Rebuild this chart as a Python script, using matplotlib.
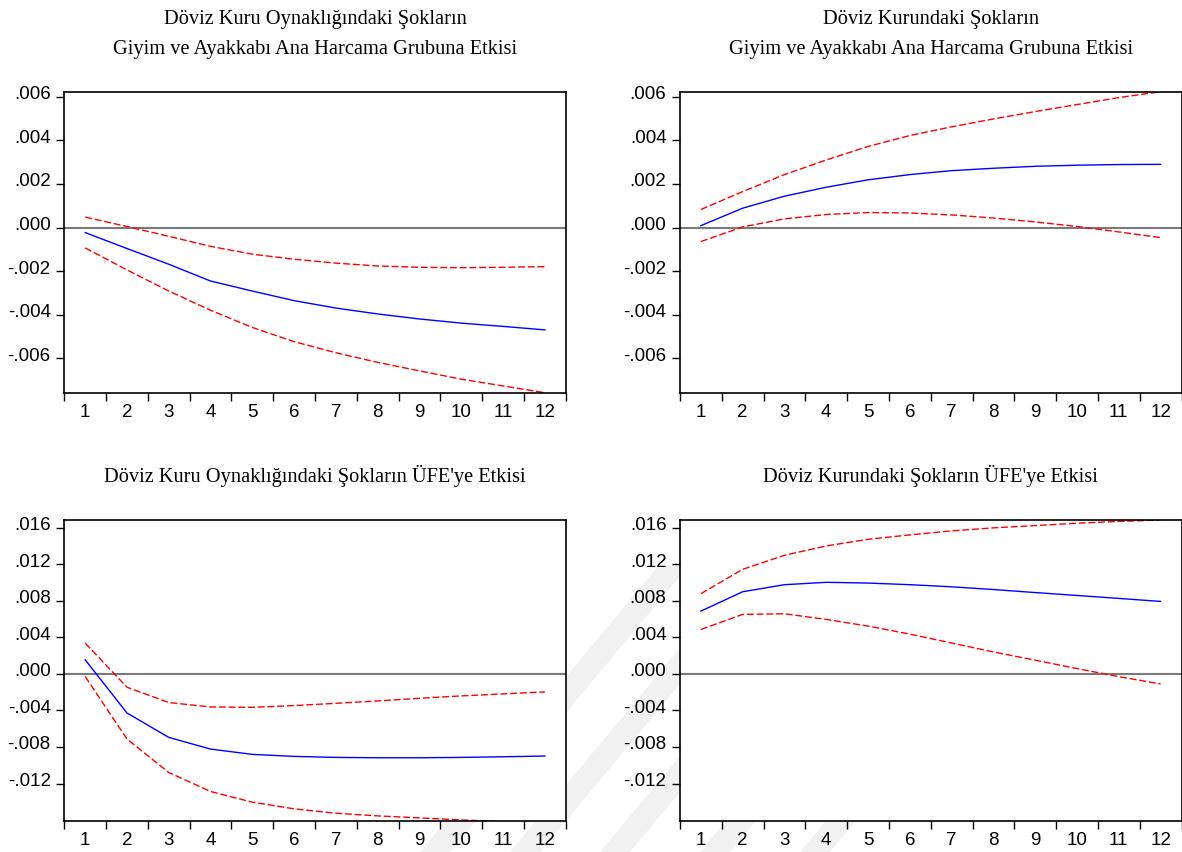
import matplotlib
matplotlib.use('Agg')
import matplotlib.pyplot as plt
from matplotlib.patches import Polygon
from matplotlib.ticker import FuncFormatter, FixedLocator, NullFormatter
from matplotlib.transforms import ScaledTranslation
import numpy as np

# impulse responses, periods 1..12
periods = np.arange(1, 13)

tl_resp = [-0.00023, -0.00096, -0.00168, -0.00245, -0.00291, -0.00335, -0.00369, -0.00396, -0.00419, -0.00438, -0.00453, -0.00469]
tl_upper = [0.00048, 0.00005, -0.00040, -0.00086, -0.00122, -0.00145, -0.00163, -0.00176, -0.00182, -0.00184, -0.00182, -0.00179]
tl_lower = [-0.00093, -0.00194, -0.00291, -0.00379, -0.00458, -0.00523, -0.00574, -0.00618, -0.00657, -0.00695, -0.00726, -0.00757]

tr_resp = [0.00009, 0.00089, 0.00144, 0.00185, 0.00219, 0.00243, 0.00261, 0.00272, 0.00281, 0.00286, 0.00289, 0.00290]
tr_upper = [0.00083, 0.00165, 0.00243, 0.00310, 0.00372, 0.00422, 0.00462, 0.00498, 0.00532, 0.00564, 0.00596, 0.00623]
tr_lower = [-0.00064, 0.00003, 0.00040, 0.00060, 0.00069, 0.00067, 0.00058, 0.00044, 0.00026, 0.00005, -0.00020, -0.00046]

bl_resp = [0.00154, -0.00428, -0.00695, -0.00823, -0.00881, -0.00903, -0.00914, -0.00918, -0.00918, -0.00914, -0.00907, -0.00899]
bl_upper = [0.00336, -0.00146, -0.00314, -0.00362, -0.00366, -0.00347, -0.00322, -0.00296, -0.00267, -0.00241, -0.00219, -0.00197]
bl_lower = [-0.00029, -0.00713, -0.01079, -0.01287, -0.01404, -0.01477, -0.01525, -0.01554, -0.01576, -0.01598, -0.01617, -0.01635]

br_resp = [0.00687, 0.00899, 0.00976, 0.01002, 0.00994, 0.00976, 0.00953, 0.00923, 0.00890, 0.00858, 0.00826, 0.00793]
br_upper = [0.00878, 0.01144, 0.01298, 0.01400, 0.01473, 0.01521, 0.01565, 0.01598, 0.01623, 0.01649, 0.01668, 0.01684]
br_lower = [0.00486, 0.00651, 0.00658, 0.00596, 0.00523, 0.00435, 0.00338, 0.00240, 0.00150, 0.00058, -0.00030, -0.00110]

titles = [
    'Döviz Kuru Oynaklığındaki Şokların\nGiyim ve Ayakkabı Ana Harcama Grubuna Etkisi',
    'Döviz Kurundaki Şokların\nGiyim ve Ayakkabı Ana Harcama Grubuna Etkisi',
    "Döviz Kuru Oynaklığındaki Şokların ÜFE'ye Etkisi",
    "Döviz Kurundaki Şokların ÜFE'ye Etkisi",
]
top_yticks = [-0.006, -0.004, -0.002, 0.0, 0.002, 0.004, 0.006]
bot_yticks = [-0.012, -0.008, -0.004, 0.0, 0.004, 0.008, 0.012, 0.016]
top_ylim = (-0.00757, 0.00623)
bot_ylim = (-0.0161, 0.01684)

W, H = 1182, 852
fig = plt.figure(figsize=(W / 100, H / 100), dpi=100)
fig.patch.set_facecolor('white')

# faint thesis watermark stripes (behind the white axes)
def stripe(x0, width, y_top, y_bot=852, slope=1.2):
    # "/" shaped band, pixel coords with y measured from top
    dx = (y_bot - y_top) / slope
    pts = [(x0, y_bot), (x0 + width, y_bot), (x0 + width + dx, y_top), (x0 + dx, y_top)]
    return Polygon([(px / W, 1 - py / H) for px, py in pts], closed=True,
                   transform=fig.transFigure, fc='#f1f1f1', ec='none', zorder=-5)

for x0, yt in [(420, 565), (510, 610), (600, 660), (700, 760), (800, 800)]:
    fig.patches.append(stripe(x0, 30, yt))

def fmt(v, pos=None):
    s = f'{v:.3f}'
    if s in ('-0.000', '0.000'):
        return '.000'
    return s.replace('0.', '.', 1)

def make_ax(left_px, top_px, resp, upper, lower, ylim, yticks, title):
    width_px, height_px = 501.5, 301
    ax = fig.add_axes([left_px / W, 1 - (top_px + height_px) / H, width_px / W, height_px / H])
    ax.set_facecolor('white')
    ax.axhline(0, color='#7a7a7a', lw=1.5, zorder=1)
    ax.plot(periods, resp, color='#0000ff', lw=1.0, zorder=3)
    ax.plot(periods, upper, color='#ff0000', lw=1.0, dashes=(5, 2), zorder=2)
    ax.plot(periods, lower, color='#ff0000', lw=1.0, dashes=(5, 2), zorder=2)
    ax.set_xlim(0.5, 12.5)
    ax.set_ylim(*ylim)
    # category boundaries as major ticks, labels centred between them
    ax.xaxis.set_major_locator(FixedLocator(np.arange(0.5, 13, 1.0)))
    ax.xaxis.set_major_formatter(NullFormatter())
    ax.xaxis.set_minor_locator(FixedLocator(periods))
    ax.set_xticklabels([str(p) for p in periods], minor=True)
    ax.tick_params(axis='x', which='major', direction='out', length=5.5, width=1.0)
    ax.tick_params(axis='x', which='minor', length=0, pad=8, labelsize=13.5)
    ax.set_yticks(yticks)
    ax.yaxis.set_major_formatter(FuncFormatter(fmt))
    ax.tick_params(axis='y', direction='out', length=5.8, width=1.0, pad=4, labelsize=13.5)
    for lab in ax.get_yticklabels():
        lab.set_transform(lab.get_transform() + ScaledTranslation(0, 0.04, fig.dpi_scale_trans))
    for sp in ax.spines.values():
        sp.set_linewidth(1.2)
    for lab in ax.get_xticklabels(minor=True) + ax.get_yticklabels():
        lab.set_family('Liberation Sans')
    # title placed in pixel coords above the axes
    cx = (left_px + width_px / 2) / W
    if '\n' in title:
        l1, l2 = title.split('\n')
        fig.text(cx, 1 - (top_px - 72) / H, l1, ha='center', va='center',
                 fontsize=14.7, family='Liberation Serif')
        fig.text(cx, 1 - (top_px - 42) / H, l2, ha='center', va='center',
                 fontsize=14.7, family='Liberation Serif')
    else:
        fig.text(cx, 1 - (top_px - 44) / H, title, ha='center', va='center',
                 fontsize=14.7, family='Liberation Serif')
    return ax

make_ax(64.3, 91.7, tl_resp, tl_upper, tl_lower, top_ylim, top_yticks, titles[0])
make_ax(680, 91.7, tr_resp, tr_upper, tr_lower, top_ylim, top_yticks, titles[1])
make_ax(64.3, 520, bl_resp, bl_upper, bl_lower, bot_ylim, bot_yticks, titles[2])
make_ax(680, 520, br_resp, br_upper, br_lower, bot_ylim, bot_yticks, titles[3])

fig.savefig('out.png', dpi=100, facecolor='white')
